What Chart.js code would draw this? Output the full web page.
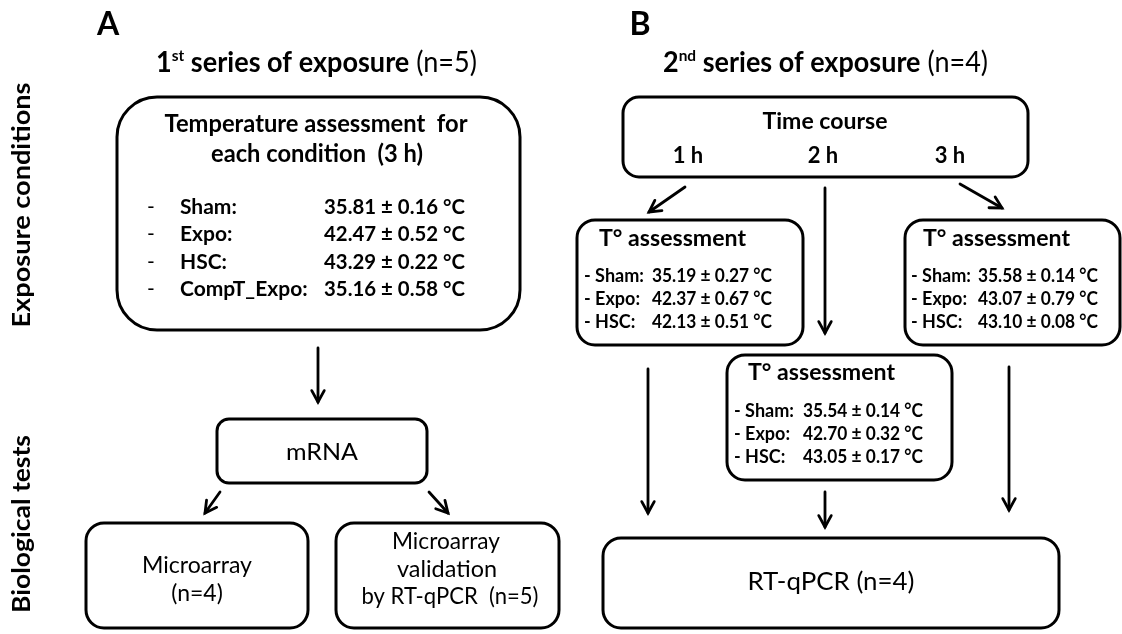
<!DOCTYPE html>
<html><head><meta charset="utf-8">
<script src="https://cdn.jsdelivr.net/npm/chart.js@4"></script>
<style>html,body{margin:0;padding:0;background:#fff}#wrap{width:1122px;height:634px}</style>
</head><body><div id="wrap"><canvas id="c" width="1122" height="634"></canvas></div>
<script>
// ---------- data ----------
const panelLetters = ['A', 'B'];
const rowLabels = ['Exposure conditions', 'Biological tests'];
const seriesOrdinals = ['1', '2'];
const seriesSuffixes = ['st', 'nd'];
const seriesTitleText = ' series of exposure';
const seriesN = [5, 4];
const assessmentTitleA = ['Temperature assessment  for', 'each condition  (3 h)'];
const conditionsA = ['Sham:', 'Expo:', 'HSC:', 'CompT_Expo:'];
const meanA = [35.81, 42.47, 43.29, 35.16];
const sdA = [0.16, 0.52, 0.22, 0.58];
const mrnaLabel = ['mRNA'];
const microarrayLines = ['Microarray', '(n=4)'];
const validationLines = ['Microarray', 'validation', 'by RT-qPCR  (n=5)'];
const timeCourseTitle = 'Time course';
const timePoints = ['1 h', '2 h', '3 h'];
const tAssessTitle = 'T° assessment';
const conditionsB = ['Sham:', 'Expo:', 'HSC:'];
const mean1h = [35.19, 42.37, 42.13];
const sd1h = [0.27, 0.67, 0.51];
const mean2h = [35.54, 42.70, 43.05];
const sd2h = [0.14, 0.32, 0.17];
const mean3h = [35.58, 43.07, 43.10];
const sd3h = [0.14, 0.79, 0.08];
const rtLabel = ['RT-qPCR (n=4)'];

// ---------- layout (positions / sizes / styles) ----------
const FONT = 'Lato, "Open Sans", sans-serif';
const layout = {
  letters: [{x: 108, y: 35}, {x: 640, y: 35}],
  rowLabels: [{x: 22, y: 205, w: 245}, {x: 22, y: 524, w: 178}],
  titles: [{x: 156, y: 72, w: 321}, {x: 663, y: 72, w: 325}],
  boxes: {
    a1: [117, 97, 403, 233, 40], mrna: [217, 419, 210, 64, 12],
    micro: [86, 523, 222, 105, 18], valid: [336, 523, 223, 105, 18],
    time: [623, 97, 405, 80, 16], t1: [577, 220, 226, 125, 18],
    t3: [905, 220, 215, 125, 18], t2: [727, 355, 225, 125, 18],
    rt: [603, 538, 456, 90, 18]
  },
  arrows: [[318, 348, 318, 402], [220, 492, 205, 513], [429, 492, 448, 513],
           [685, 187, 649, 212], [825, 188, 825, 333], [960, 184, 1002, 208],
           [648, 369, 648, 513], [825, 492, 825, 527], [1009, 367, 1009, 510]],
  a1Title: [{x: 316, y: 132, w: 303}, {x: 317, y: 162, w: 212}],
  a1Rows: {dash: 147, label: 180, value: 324, y0: 214, dy: 27.3, size: 21},
  mrna: {x: 322, y: 460, w: 72},
  micro: [{x: 197, y: 573, w: 110}, {x: 197, y: 601}],
  valid: [{x: 446, y: 549, w: 108}, {x: 447, y: 577, w: 100}, {x: 450, y: 604, w: 177}],
  time: {x: 825, y: 129, w: 125},
  timePts: [{x: 688, y: 163}, {x: 823, y: 163}, {x: 950, y: 163}],
  tBoxes: [
    {title: {x: 599, y: 246}, label: 584, value: 652, y0: 282},
    {title: {x: 748, y: 380}, label: 734, value: 803, y0: 417},
    {title: {x: 923, y: 246}, label: 911, value: 978, y0: 282}
  ],
  tRowDy: 23,
  rt: {x: 831, y: 590, w: 167}
};

const fmt = (m, s) => m.toFixed(2) + ' \u00b1 ' + s.toFixed(2) + ' \u00b0C';

const flowPlugin = {
  id: 'flow',
  beforeDraw(chart) {
    const c = chart.ctx;
    c.save(); c.fillStyle = '#fff'; c.fillRect(0, 0, chart.width, chart.height); c.restore();
  },
  afterDatasetsDraw(chart) {
    const c = chart.ctx;
    const sx = chart.scales.x, sy = chart.scales.y;
    const px = v => sx.getPixelForValue(v);
    const py = v => sy.getPixelForValue(v);
    const setFont = (size, bold) => { c.font = (bold ? 'bold ' : '') + size + 'px ' + FONT; };
    function text(t, x, y, size, bold, align, w) {
      c.save();
      setFont(size, bold);
      c.fillStyle = '#000';
      c.textBaseline = 'alphabetic';
      const mw = c.measureText(t).width;
      const k = w ? w / mw : 1;
      let X = px(x);
      if (align === 'center') X -= mw * k / 2;
      else if (align === 'right') X -= mw * k;
      c.translate(X, py(y));
      c.scale(k, 1);
      c.textAlign = 'left';
      c.fillText(t, 0, 0);
      c.restore();
    }
    // boxes
    c.save();
    c.strokeStyle = '#000'; c.lineWidth = 3;
    Object.values(layout.boxes).forEach(b => {
      const x = px(b[0]), y = py(b[1]), w = px(b[0] + b[2]) - x, h = py(b[1] + b[3]) - y;
      c.beginPath(); c.roundRect(x, y, w, h, b[4]); c.stroke();
    });
    c.restore();
    // arrow heads
    c.save();
    c.strokeStyle = '#000'; c.lineWidth = 2.8; c.lineCap = 'round'; c.lineJoin = 'miter';
    layout.arrows.forEach(a => {
      const x1 = px(a[0]), y1 = py(a[1]), x2 = px(a[2]), y2 = py(a[3]);
      const ang = Math.atan2(y2 - y1, x2 - x1), L = 13, sp = 0.5;
      c.beginPath();
      c.moveTo(x2 - L * Math.cos(ang - sp), y2 - L * Math.sin(ang - sp));
      c.lineTo(x2, y2);
      c.lineTo(x2 - L * Math.cos(ang + sp), y2 - L * Math.sin(ang + sp));
      c.stroke();
    });
    c.restore();
    // panel letters
    panelLetters.forEach((t, i) => text(t, layout.letters[i].x, layout.letters[i].y, 32, true, 'center'));
    // row labels (rotated)
    rowLabels.forEach((t, i) => {
      const p = layout.rowLabels[i];
      c.save();
      setFont(24, true);
      const mw = c.measureText(t).width;
      c.translate(px(p.x), py(p.y));
      c.rotate(-Math.PI / 2);
      c.scale(p.w / mw, 1);
      c.fillStyle = '#000'; c.textAlign = 'center'; c.textBaseline = 'middle';
      c.fillText(t, 0, 0);
      c.restore();
    });
    // series titles with superscript
    seriesOrdinals.forEach((o, i) => {
      const p = layout.titles[i];
      const runs = [
        {t: o, s: 28, b: true, dy: 0},
        {t: seriesSuffixes[i], s: 16, b: true, dy: -11},
        {t: seriesTitleText, s: 28, b: true, dy: 0},
        {t: ' (n=' + seriesN[i] + ')', s: 28, b: false, dy: 0}
      ];
      let tot = 0;
      runs.forEach(r => { setFont(r.s, r.b); r.w = c.measureText(r.t).width; tot += r.w; });
      const k = p.w / tot;
      c.save();
      c.translate(px(p.x), py(p.y));
      c.scale(k, 1);
      c.fillStyle = '#000'; c.textBaseline = 'alphabetic'; c.textAlign = 'left';
      let x = 0;
      runs.forEach(r => { setFont(r.s, r.b); c.fillText(r.t, x, r.dy); x += r.w; });
      c.restore();
    });
    // panel A box 1
    assessmentTitleA.forEach((t, i) => text(t, layout.a1Title[i].x, layout.a1Title[i].y, 24, true, 'center', layout.a1Title[i].w));
    const R = layout.a1Rows;
    conditionsA.forEach((cond, i) => {
      const y = R.y0 + i * R.dy;
      text('-', R.dash, y, R.size, false, 'left');
      text(cond, R.label, y, R.size, true, 'left');
      text(fmt(meanA[i], sdA[i]), R.value, y, R.size, true, 'left', 141);
    });
    // mRNA & biological tests A
    text(mrnaLabel[0], layout.mrna.x, layout.mrna.y, 24, false, 'center', layout.mrna.w);
    microarrayLines.forEach((t, i) => text(t, layout.micro[i].x, layout.micro[i].y, 23, false, 'center', layout.micro[i].w));
    validationLines.forEach((t, i) => text(t, layout.valid[i].x, layout.valid[i].y, 23, false, 'center', layout.valid[i].w));
    // panel B
    text(timeCourseTitle, layout.time.x, layout.time.y, 22, true, 'center', layout.time.w);
    timePoints.forEach((t, i) => text(t, layout.timePts[i].x, layout.timePts[i].y, 22, true, 'center'));
    const tData = [[mean1h, sd1h], [mean2h, sd2h], [mean3h, sd3h]];
    layout.tBoxes.forEach((tb, j) => {
      text(tAssessTitle, tb.title.x, tb.title.y, 22, true, 'left', 147);
      conditionsB.forEach((cond, i) => {
        const y = tb.y0 + i * layout.tRowDy;
        text('- ' + cond, tb.label, y, 18, true, 'left', cond === 'Sham:' ? 60 : undefined);
        text(fmt(tData[j][0][i], tData[j][1][i]), tb.value, y, 18, true, 'left', 120);
      });
    });
    text(rtLabel[0], layout.rt.x, layout.rt.y, 25, false, 'center', layout.rt.w);
  }
};

const arrowDatasets = layout.arrows.map(a => ({
  data: [{x: a[0], y: a[1]}, {x: a[2], y: a[3]}],
  showLine: true, borderColor: '#000', borderWidth: 2.8, pointRadius: 0,
  borderCapStyle: 'round', fill: false
}));

new Chart(document.getElementById('c'), {
  type: 'scatter',
  data: {datasets: arrowDatasets},
  options: {
    responsive: false, animation: false, devicePixelRatio: 1,
    layout: {padding: 0},
    plugins: {legend: {display: false}, tooltip: {enabled: false}, title: {display: false}},
    scales: {
      x: {type: 'linear', min: 0, max: 1122, display: false},
      y: {type: 'linear', min: 0, max: 634, reverse: true, display: false}
    },
    events: []
  },
  plugins: [flowPlugin]
});
</script></body></html>
